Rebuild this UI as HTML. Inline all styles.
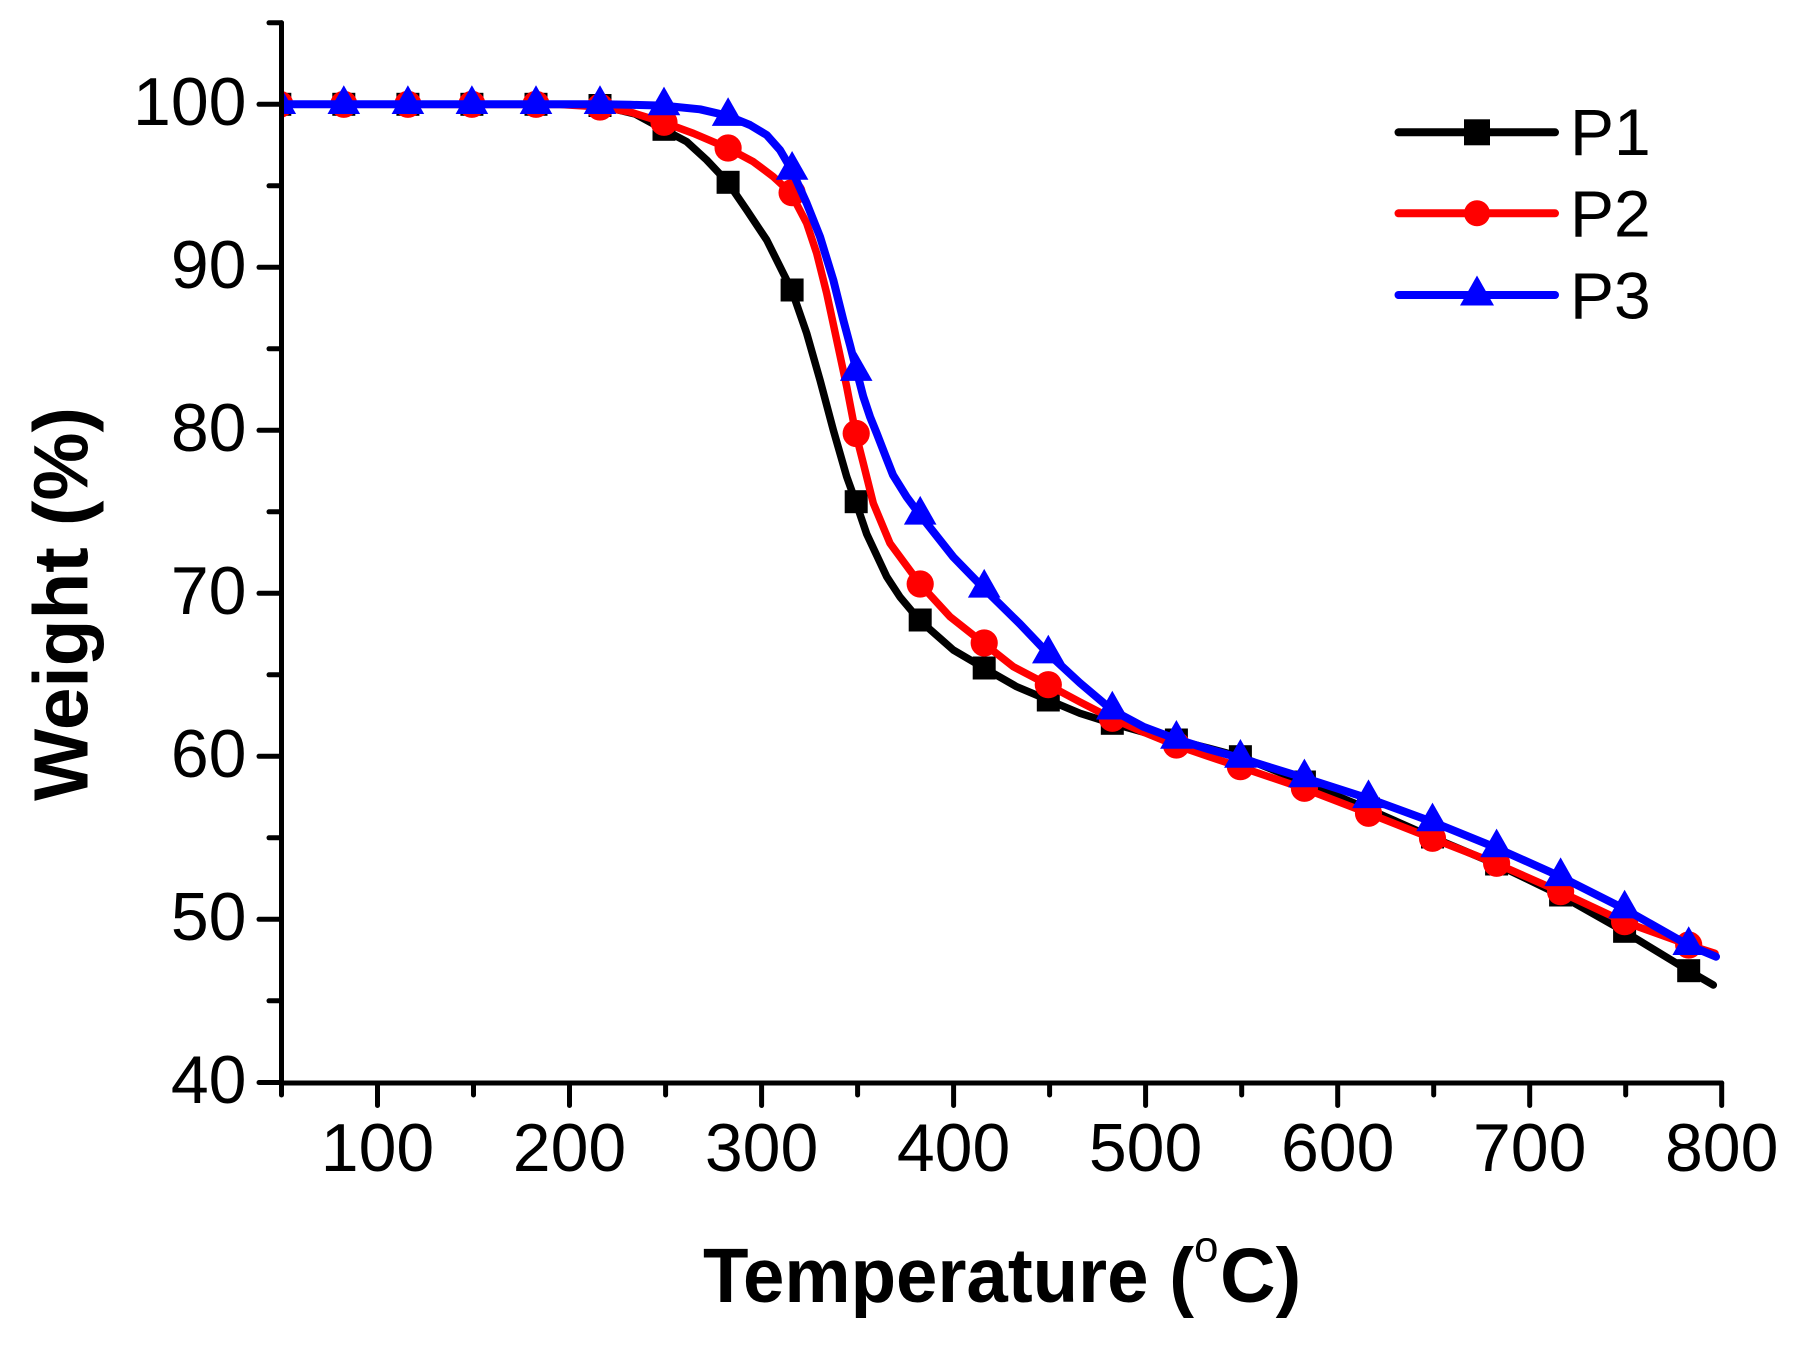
<!DOCTYPE html>
<html>
<head>
<meta charset="utf-8">
<style>
  html, body { margin: 0; padding: 0; background: #ffffff; }
  svg { display: block; }
  text { font-family: "Liberation Sans", Arial, sans-serif; fill: #000; }
</style>
</head>
<body>
<svg width="1798" height="1345" viewBox="0 0 1798 1345" xmlns="http://www.w3.org/2000/svg">
  <rect x="0" y="0" width="1798" height="1345" fill="#ffffff"/>
  <defs>
    <clipPath id="plot"><rect x="282" y="0" width="1516" height="1345"/></clipPath>
    <rect id="sq" x="-11.5" y="-11.5" width="23" height="23"/>
    <path id="tr" d="M0,-19 L16.3,9.7 L-16.3,9.7 Z"/>
  </defs>

  <g clip-path="url(#plot)">
    <!-- P1 black -->
    <polyline fill="none" stroke="#000000" stroke-width="7.5" stroke-linejoin="round" stroke-linecap="round"
      points="281.5,104.3 560,104.3 601.6,106 635,114 663.3,129.3 686.7,141.7 706.7,160 727.7,182.3 746.7,210 766.7,240 783.3,273.3 791.7,290 806.7,333.3 820,380 833.3,430 846.7,476.7 855.7,501.7 866.7,534 886.7,576.7 900,597 919.3,620 953.3,650 984,668 1016.7,686.7 1048.3,700 1080,713.3 1111.7,723.3 1143,732 1176,740 1208,748 1240.7,756.7 1303.3,782 1368.3,809 1431.7,837 1495.7,864 1560,895 1624,931.3 1688.7,970.7 1713.3,985"/>
    <g fill="#000000">
      <use href="#sq" x="279.8" y="104.3"/>
      <use href="#sq" x="343.8" y="104.3"/>
      <use href="#sq" x="407.9" y="104.3"/>
      <use href="#sq" x="471.9" y="104.3"/>
      <use href="#sq" x="536.0" y="104.3"/>
      <use href="#sq" x="600.0" y="105.5"/>
      <use href="#sq" x="664.0" y="129.3"/>
      <use href="#sq" x="728.1" y="182.3"/>
      <use href="#sq" x="792.1" y="290"/>
      <use href="#sq" x="856.2" y="501.7"/>
      <use href="#sq" x="920.2" y="620"/>
      <use href="#sq" x="984.2" y="668"/>
      <use href="#sq" x="1048.3" y="700"/>
      <use href="#sq" x="1112.3" y="723.3"/>
      <use href="#sq" x="1176.4" y="740"/>
      <use href="#sq" x="1240.4" y="756.7"/>
      <use href="#sq" x="1304.4" y="782"/>
      <use href="#sq" x="1368.5" y="809"/>
      <use href="#sq" x="1432.5" y="837"/>
      <use href="#sq" x="1496.6" y="864"/>
      <use href="#sq" x="1560.6" y="895"/>
      <use href="#sq" x="1624.6" y="931.3"/>
      <use href="#sq" x="1688.7" y="970.7"/>
    </g>

    <!-- P2 red -->
    <polyline fill="none" stroke="#ff0000" stroke-width="7.5" stroke-linejoin="round" stroke-linecap="round"
      points="281.5,104.3 560,104.5 601.6,107 630,112 663.3,122.3 693.3,133.3 727.7,148 753.3,161.7 773.3,176.7 790.7,192.7 806.7,223.3 816.7,253.3 826.7,293.3 836.7,340 846.7,386.7 855.7,433.5 863.3,463.3 873.3,503.3 890,543.3 920,584 950,616.7 983.3,643 1013.3,666.7 1047.7,684.7 1080,702 1111.7,718.3 1143,732 1175,745 1207,756 1239.3,766.7 1303.3,788.3 1368.3,813.3 1431.7,838.3 1495.7,863.3 1560,891.7 1624,921.7 1688.7,945 1715,953.3"/>
    <g fill="#ff0000">
      <circle cx="279.8" cy="104.3" r="13.6"/>
      <circle cx="343.8" cy="104.3" r="13.6"/>
      <circle cx="407.9" cy="104.3" r="13.6"/>
      <circle cx="471.9" cy="104.3" r="13.6"/>
      <circle cx="536.0" cy="104.3" r="13.6"/>
      <circle cx="600.0" cy="107" r="13.6"/>
      <circle cx="664.0" cy="122.3" r="13.6"/>
      <circle cx="728.1" cy="148" r="13.6"/>
      <circle cx="792.1" cy="192.7" r="13.6"/>
      <circle cx="856.2" cy="433.5" r="13.6"/>
      <circle cx="920.2" cy="584" r="13.6"/>
      <circle cx="984.2" cy="643" r="13.6"/>
      <circle cx="1048.3" cy="684.7" r="13.6"/>
      <circle cx="1112.3" cy="718.3" r="13.6"/>
      <circle cx="1176.4" cy="745" r="13.6"/>
      <circle cx="1240.4" cy="766.7" r="13.6"/>
      <circle cx="1304.4" cy="788.3" r="13.6"/>
      <circle cx="1368.5" cy="813.3" r="13.6"/>
      <circle cx="1432.5" cy="838.3" r="13.6"/>
      <circle cx="1496.6" cy="863.3" r="13.6"/>
      <circle cx="1560.6" cy="891.7" r="13.6"/>
      <circle cx="1624.6" cy="921.7" r="13.6"/>
      <circle cx="1688.7" cy="945" r="13.6"/>
    </g>

    <!-- P3 blue -->
    <polyline fill="none" stroke="#0000ff" stroke-width="8" stroke-linejoin="round" stroke-linecap="round"
      points="281.5,104.3 601.6,104.3 630,104.8 663.3,105.6 700,109.3 726.7,115.5 750,125 766.7,135 780,150 791.7,170 806.7,203.3 820,236.7 833.3,280 843.3,320 850,345 856.7,371.2 863.3,396.7 870,416.7 876.7,433.3 886.7,459 893,475 906.7,497 920,514.9 953.3,557 983.3,587.9 1020,624 1048.3,653.7 1080,683 1111.7,709.8 1143.3,726.7 1176,739 1208,749 1240,758 1303.3,777.6 1368.3,798.4 1431.7,821.6 1495.7,847.6 1560,876.4 1624,908.7 1688.7,945.3 1716,956.7"/>
    <g fill="#0000ff">
      <use href="#tr" x="279.8" y="104.3"/>
      <use href="#tr" x="343.8" y="104.3"/>
      <use href="#tr" x="407.9" y="104.3"/>
      <use href="#tr" x="471.9" y="104.3"/>
      <use href="#tr" x="536.0" y="104.3"/>
      <use href="#tr" x="600.0" y="104.3"/>
      <use href="#tr" x="664.0" y="105.6"/>
      <use href="#tr" x="728.1" y="116.2"/>
      <use href="#tr" x="792.1" y="170"/>
      <use href="#tr" x="856.2" y="371.2"/>
      <use href="#tr" x="920.2" y="514.9"/>
      <use href="#tr" x="984.2" y="587.9"/>
      <use href="#tr" x="1048.3" y="653.7"/>
      <use href="#tr" x="1112.3" y="709.8"/>
      <use href="#tr" x="1176.4" y="739"/>
      <use href="#tr" x="1240.4" y="758"/>
      <use href="#tr" x="1304.4" y="777.6"/>
      <use href="#tr" x="1368.5" y="798.4"/>
      <use href="#tr" x="1432.5" y="821.6"/>
      <use href="#tr" x="1496.6" y="847.6"/>
      <use href="#tr" x="1560.6" y="876.4"/>
      <use href="#tr" x="1624.6" y="908.7"/>
      <use href="#tr" x="1688.7" y="945.3"/>
    </g>
  </g>

  <!-- Axes -->
  <g stroke="#000000" stroke-width="5" stroke-linecap="round" fill="none">
    <line x1="281.5" y1="22.8" x2="281.5" y2="1083"/>
    <line x1="281.5" y1="1083" x2="1721.7" y2="1083"/>
    <!-- y major ticks -->
    <line x1="259" y1="104.3" x2="281.5" y2="104.3"/>
    <line x1="259" y1="267.3" x2="281.5" y2="267.3"/>
    <line x1="259" y1="430.3" x2="281.5" y2="430.3"/>
    <line x1="259" y1="593.3" x2="281.5" y2="593.3"/>
    <line x1="259" y1="756.3" x2="281.5" y2="756.3"/>
    <line x1="259" y1="919.3" x2="281.5" y2="919.3"/>
    <line x1="259" y1="1082.5" x2="281.5" y2="1082.5"/>
    <!-- y minor ticks -->
    <line x1="269" y1="22.8" x2="281.5" y2="22.8"/>
    <line x1="269" y1="185.8" x2="281.5" y2="185.8"/>
    <line x1="269" y1="348.8" x2="281.5" y2="348.8"/>
    <line x1="269" y1="511.8" x2="281.5" y2="511.8"/>
    <line x1="269" y1="674.8" x2="281.5" y2="674.8"/>
    <line x1="269" y1="837.8" x2="281.5" y2="837.8"/>
    <line x1="269" y1="1000.8" x2="281.5" y2="1000.8"/>
    <!-- x major ticks -->
    <line x1="377.5" y1="1083" x2="377.5" y2="1105.5"/>
    <line x1="569.5" y1="1083" x2="569.5" y2="1105.5"/>
    <line x1="761.6" y1="1083" x2="761.6" y2="1105.5"/>
    <line x1="953.6" y1="1083" x2="953.6" y2="1105.5"/>
    <line x1="1145.6" y1="1083" x2="1145.6" y2="1105.5"/>
    <line x1="1337.7" y1="1083" x2="1337.7" y2="1105.5"/>
    <line x1="1529.7" y1="1083" x2="1529.7" y2="1105.5"/>
    <line x1="1721.7" y1="1083" x2="1721.7" y2="1105.5"/>
    <!-- x minor ticks -->
    <line x1="281.5" y1="1083" x2="281.5" y2="1095"/>
    <line x1="473.5" y1="1083" x2="473.5" y2="1095"/>
    <line x1="665.6" y1="1083" x2="665.6" y2="1095"/>
    <line x1="857.6" y1="1083" x2="857.6" y2="1095"/>
    <line x1="1049.6" y1="1083" x2="1049.6" y2="1095"/>
    <line x1="1241.7" y1="1083" x2="1241.7" y2="1095"/>
    <line x1="1433.7" y1="1083" x2="1433.7" y2="1095"/>
    <line x1="1625.7" y1="1083" x2="1625.7" y2="1095"/>
  </g>

  <!-- Y tick labels -->
  <g font-size="68" text-anchor="end">
    <text x="246.5" y="124.8">100</text>
    <text x="246.5" y="287.8">90</text>
    <text x="246.5" y="450.8">80</text>
    <text x="246.5" y="613.8">70</text>
    <text x="246.5" y="776.8">60</text>
    <text x="246.5" y="939.8">50</text>
    <text x="246.5" y="1102.8">40</text>
  </g>

  <!-- X tick labels -->
  <g font-size="68" text-anchor="middle">
    <text x="377.5" y="1171">100</text>
    <text x="569.5" y="1171">200</text>
    <text x="761.6" y="1171">300</text>
    <text x="953.6" y="1171">400</text>
    <text x="1145.6" y="1171">500</text>
    <text x="1337.7" y="1171">600</text>
    <text x="1529.7" y="1171">700</text>
    <text x="1721.7" y="1171">800</text>
  </g>

  <!-- Axis titles -->
  <text x="0" y="0" font-size="77" font-weight="bold" transform="translate(87.5,801) rotate(-90)" textLength="394" lengthAdjust="spacingAndGlyphs">Weight (%)</text>

  <text x="703" y="1302" font-size="77" font-weight="bold" textLength="491" lengthAdjust="spacingAndGlyphs">Temperature (</text>
  <text x="1194" y="1261.5" font-size="44">o</text>
  <text x="1220" y="1302" font-size="77" font-weight="bold">C)</text>

  <!-- Legend -->
  <g stroke-width="8" stroke-linecap="round">
    <line x1="1398.5" y1="132.3" x2="1555" y2="132.3" stroke="#000000"/>
    <line x1="1398.5" y1="213.3" x2="1555" y2="213.3" stroke="#ff0000"/>
    <line x1="1398.5" y1="295" x2="1555" y2="295" stroke="#0000ff"/>
  </g>
  <rect x="1464" y="119.3" width="26" height="26" fill="#000000"/>
  <circle cx="1477" cy="213.3" r="13" fill="#ff0000"/>
  <path d="M1477,275.5 L1494,305.5 L1460,305.5 Z" fill="#0000ff"/>
  <g font-size="66">
    <text x="1570" y="155">P1</text>
    <text x="1570" y="236.7">P2</text>
    <text x="1570" y="318.3">P3</text>
  </g>
</svg>
</body>
</html>
